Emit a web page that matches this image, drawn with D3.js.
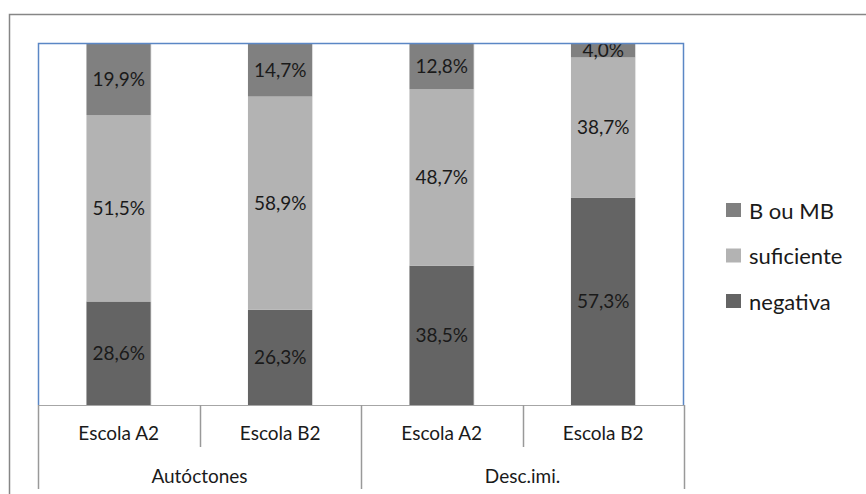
<!DOCTYPE html>
<html>
<head>
<meta charset="utf-8">
<script src="https://cdn.jsdelivr.net/npm/d3@7"></script>
<style>
  html, body { margin: 0; padding: 0; background: #fff; }
  svg { display: block; font-family: Lato, "Open Sans", sans-serif; }
</style>
</head>
<body>
<svg id="chart" width="866" height="494"></svg>
<script>
// Groups and schools along the category axis
const groups = ["Autóctones", "Desc.imi."];
const schools = ["Escola A2", "Escola B2"];

// Percentages per bar (Autóctones A2, Autóctones B2, Desc.imi. A2, Desc.imi. B2)
const negativa   = [28.6, 26.3, 38.5, 57.3];
const suficiente = [51.5, 58.9, 48.7, 38.7];
const bOuMB      = [19.9, 14.7, 12.8, 4.0];

const seriesNames = ["negativa", "suficiente", "B ou MB"];
const seriesColors = ["#646464", "#b3b3b3", "#808080"];
const legendOrder = ["B ou MB", "suficiente", "negativa"];

const bars = [];
groups.forEach((g, gi) => schools.forEach((s, si) => {
  const i = gi * schools.length + si;
  bars.push({ key: g + "|" + s, group: g, school: s,
    "negativa": negativa[i], "suficiente": suficiente[i], "B ou MB": bOuMB[i] });
}));

const svg = d3.select("#chart");
const plot = { left: 38, right: 684, top: 43, bottom: 405 };

// Outer chart frame (only top and left edges fall inside the view)
svg.append("path")
  .attr("d", "M9.5,494 V14.5 H866")
  .attr("fill", "none").attr("stroke", "#868686").attr("stroke-width", 1.5);

const x = d3.scaleBand()
  .domain(bars.map(d => d.key))
  .range([plot.left, plot.right])
  .paddingInner(0.6).paddingOuter(0.3);

const y = d3.scaleLinear().domain([0, 100]).range([plot.bottom, plot.top]);

const stack = d3.stack().keys(seriesNames)(bars);
const fmt = v => d3.format(".1f")(v).replace(".", ",") + "%";

const layers = svg.append("g").selectAll("g")
  .data(stack).join("g")
  .attr("fill", (d, i) => seriesColors[i]);

layers.selectAll("rect")
  .data(d => d).join("rect")
  .attr("x", d => x(d.data.key))
  .attr("width", x.bandwidth())
  .attr("y", d => y(d[1]))
  .attr("height", d => y(d[0]) - y(d[1]));

// Thin light edge on bars' right side
svg.append("g").selectAll("line")
  .data(bars).join("line")
  .attr("x1", d => x(d.key) + x.bandwidth()).attr("x2", d => x(d.key) + x.bandwidth())
  .attr("y1", plot.top).attr("y2", plot.bottom)
  .attr("stroke", "#e6e6e6").attr("stroke-width", 0.8);

// Data labels centred in each segment
stack.forEach(layer => {
  svg.append("g").selectAll("text")
    .data(layer).join("text")
    .attr("x", d => x(d.data.key) + x.bandwidth() / 2)
    .attr("y", d => {
      const top = Math.max(y(d[1]), plot.top);
      return (top + y(d[0])) / 2;
    })
    .attr("dy", "0.35em")
    .attr("text-anchor", "middle")
    .attr("font-size", 19)
    .attr("fill", "#1a1a1a")
    .text(d => fmt(d.data[layer.key]));
});

// Plot area border (blue on top, left, right)
svg.append("path")
  .attr("d", `M${plot.left + 0.5},${plot.bottom} V${plot.top + 0.5} H${plot.right - 0.5} V${plot.bottom}`)
  .attr("fill", "none").attr("stroke", "#5b87c5").attr("stroke-width", 1.5);

// Category axis line
svg.append("line")
  .attr("x1", plot.left).attr("x2", plot.right)
  .attr("y1", plot.bottom + 0.5).attr("y2", plot.bottom + 0.5)
  .attr("stroke", "#a6a6a6").attr("stroke-width", 1.2);

// Multi-level category axis: school row and group row
const step = x.step();
const row1 = plot.bottom + 42, row2 = plot.bottom + 84;
const axis = svg.append("g");

// Dividers between schools (short) and groups (long)
const dividers = [];
bars.forEach((d, i) => {
  const xl = x(d.key) - x.paddingOuter() * step;
  dividers.push({ x: xl, long: i % schools.length === 0 });
});
dividers.push({ x: plot.right, long: true });
axis.selectAll("line.div")
  .data(dividers).join("line")
  .attr("x1", d => Math.round(d.x) + 0.5).attr("x2", d => Math.round(d.x) + 0.5)
  .attr("y1", plot.bottom).attr("y2", d => d.long ? row2 : row1)
  .attr("stroke", "#999").attr("stroke-width", 1.5);

axis.selectAll("text.school")
  .data(bars).join("text")
  .attr("x", d => x(d.key) + x.bandwidth() / 2)
  .attr("y", plot.bottom + 28)
  .attr("dy", "0.35em")
  .attr("text-anchor", "middle")
  .attr("font-size", 19).attr("fill", "#1a1a1a")
  .text(d => d.school);

axis.selectAll("text.group")
  .data(groups).join("text")
  .attr("x", (g, gi) => {
    const first = bars[gi * schools.length], last = bars[gi * schools.length + schools.length - 1];
    return (x(first.key) + x(last.key) + x.bandwidth()) / 2;
  })
  .attr("y", plot.bottom + 71)
  .attr("dy", "0.35em")
  .attr("text-anchor", "middle")
  .attr("font-size", 19).attr("fill", "#1a1a1a")
  .text(g => g);

// Legend
const legend = svg.append("g").attr("transform", "translate(726,210)");
const li = legend.selectAll("g").data(legendOrder).join("g")
  .attr("transform", (d, i) => `translate(0,${i * 45.5})`);
li.append("rect")
  .attr("x", 0).attr("y", -7).attr("width", 15).attr("height", 14)
  .attr("fill", d => seriesColors[seriesNames.indexOf(d)]);
li.append("text")
  .attr("x", 23).attr("y", 1).attr("dy", "0.35em")
  .attr("font-size", 22).attr("fill", "#1a1a1a")
  .text(d => d);
</script>
</body>
</html>
